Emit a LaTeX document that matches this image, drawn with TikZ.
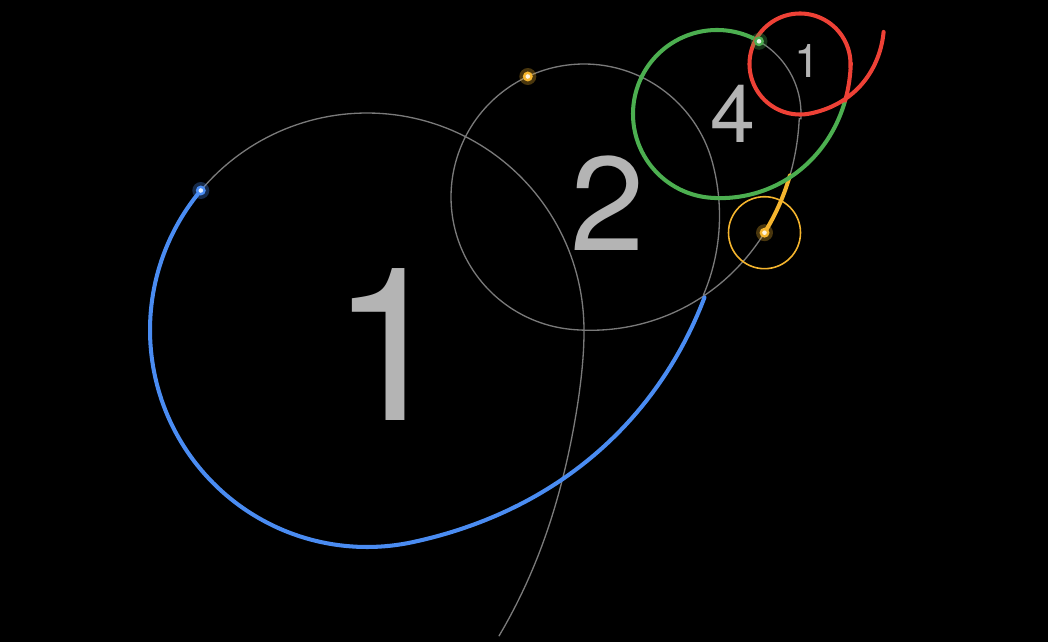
\documentclass[tikz,border=0pt]{standalone}
\usepackage{fontspec}
\setsansfont{TeX Gyre Heros}
\definecolor{Night}{HTML}{000000}
\definecolor{Guide}{HTML}{7A7A7A}
\definecolor{Digit}{HTML}{B4B4B4}
\definecolor{OrbitBlue}{HTML}{4A8CF2}
\definecolor{OrbitGold}{HTML}{F5B52E}
\definecolor{OrbitGreen}{HTML}{4CAF50}
\definecolor{OrbitRed}{HTML}{EE4136}
\tikzset{
    guide/.style={draw=Guide, line width=0.75pt},
    trace/.style={draw=#1, line width=2.3pt, line cap=round},
    digit/.style={text=Digit, anchor=base, inner sep=0pt, font=\sffamily\fontsize{#1}{#1}\selectfont},
    spark/.style={circle, inner sep=0pt, minimum size=2.6pt, fill=white!85!#1},
}

\begin{document}
\begin{tikzpicture}[x=0.02cm, y=-0.02cm,
    declare function={
        rbig(\t)=217+0.00297*max(0,2-(\t))^2*sqrt(max(0,2-(\t)))+0.0175*max(0,(\t)-282)^2;
        rtwo(\t)=133+0.00727*max(0,15-(\t))^2+0.00727*max(0,(\t)-265)^2;
        rfour(\t)=84+0.00448*max(0,(\t)-266)^2;
        rone(\t)=50.5+0.0039*max(0,(\t)-281)^2;
    }]
    % Fondo
    \fill[Night] (0,0) rectangle (1048,642);
    \useasboundingbox (0,0) rectangle (1048,642);

    % Cifre
    \node[digit=122] (one) at (390,420) {1};
    \node[digit=76] (two) at (608,250) {2};
    \node[digit=46] (four) at (733,143) {4};
    \node[digit=26.5] (unit) at (807,78) {1};

    % Traccia grigia
    \draw[guide] plot[domain=-66.7:140, samples=120, variable=\t] ({367+rbig(\t)*cos(\t)}, {330-rbig(\t)*sin(\t)});
    \draw[guide] plot[domain=-39.5:348.8, samples=200, variable=\t] ({584+rtwo(\t)*cos(\t)}, {197-rtwo(\t)*sin(\t)});
    \draw[guide] plot[domain=366:380, samples=20, variable=\t] ({584+rtwo(\t)*cos(\t)}, {197-rtwo(\t)*sin(\t)})
        -- plot[domain=-3.2:60, samples=40, variable=\t] ({717+rfour(\t)*cos(\t)}, {114-rfour(\t)*sin(\t)});

    % Cerchio piccolo
    \draw[OrbitGold, line width=0.9pt] (764.5,232.7) circle (36);

    % Archi colorati
    \draw[trace=OrbitBlue] plot[domain=140:365.5, samples=150, variable=\t] ({367+rbig(\t)*cos(\t)}, {330-rbig(\t)*sin(\t)});
    \draw[trace=OrbitGold] plot[domain=348.8:366, samples=20, variable=\t] ({584+rtwo(\t)*cos(\t)}, {197-rtwo(\t)*sin(\t)});
    \draw[trace=OrbitGreen] plot[domain=60:366, samples=180, variable=\t] ({717+rfour(\t)*cos(\t)}, {114-rfour(\t)*sin(\t)});
    \draw[trace=OrbitRed] plot[domain=366:380, samples=15, variable=\t] ({717+rfour(\t)*cos(\t)}, {114-rfour(\t)*sin(\t)})
        -- plot[domain=-1.6:381, samples=200, variable=\t] ({800+rone(\t)*cos(\t)}, {64-rone(\t)*sin(\t)});

    % Punti luminosi
    \foreach \name/\col/\x/\y in {bluedot/OrbitBlue/200.8/190.5, golddot/OrbitGold/527.8/76.5,
        sundot/OrbitGold/764.5/232.7, greendot/OrbitGreen/759/41.3} {
        \fill[\col, opacity=0.3] (\x,\y) circle (8.5);
        \fill[\col] (\x,\y) circle (5);
        \node[spark=\col] (\name) at (\x,\y) {};
    }
\end{tikzpicture}
\end{document}
